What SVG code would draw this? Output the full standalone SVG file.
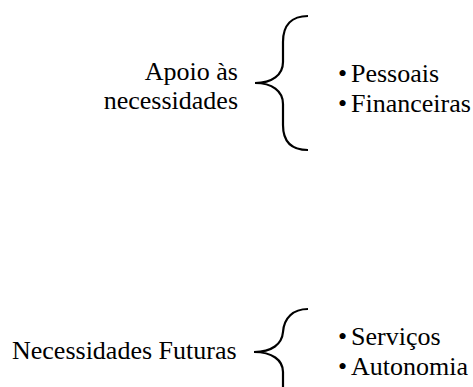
<svg xmlns="http://www.w3.org/2000/svg" width="473" height="387" viewBox="0 0 473 387">
<style>
text{font-family:"Liberation Serif","Times New Roman",serif;font-size:26px;fill:#000}
.r{text-anchor:end}
.brace{fill:none;stroke:#000;stroke-width:2.2}
</style>
<rect width="473" height="387" fill="#fff"/>
<g id="node-apoio">
<text class="r" x="238" y="80">Apoio às</text>
<text class="r" x="238" y="109">necessidades</text>
</g>
<g id="node-apoio-items">
<text x="338" y="82">•<tspan x="351">Pessoais</tspan></text>
<text x="338" y="112">•<tspan x="351">Financeiras</tspan></text>
</g>
<g id="node-futuras">
<text x="12" y="359">Necessidades Futuras</text>
</g>
<g id="node-futuras-items">
<text x="338" y="345">•<tspan x="351">Serviços</tspan></text>
<text x="338" y="375">•<tspan x="351">Autonomia</tspan></text>
</g>
<g id="connectors">
<path class="brace" d="M308,16 C292,16 283,25 283,42 L283,62 C283,75 272,83 255,83 C272,83 283,91 283,104 L283,125 C283,142 292,150 308,150"/>
<path class="brace" d="M308,309 C293,309 284,318 283,332 C282,344 272,352 254,352 C272,352 283,360 283,372 L283,390"/>
</g>
</svg>
